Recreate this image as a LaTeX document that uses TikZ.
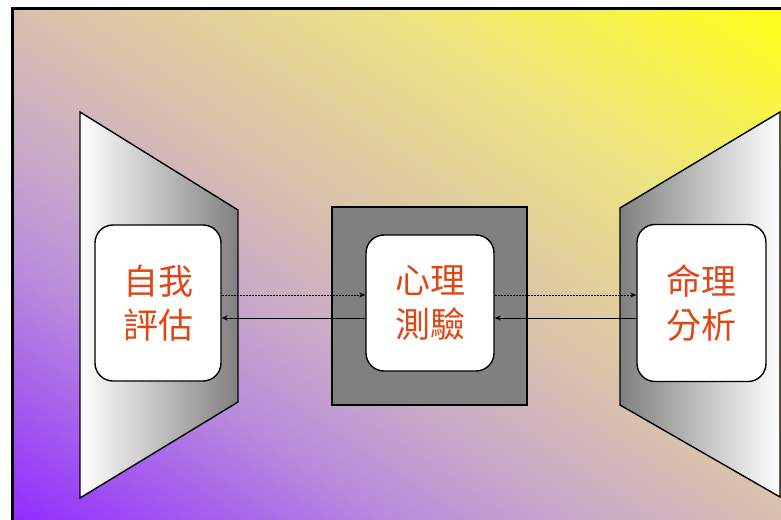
\documentclass[tikz,border=0pt]{standalone}
\usepackage{fontspec}
\newfontfamily\cjk{Noto Sans CJK TC}
\usetikzlibrary{arrows.meta}
\definecolor{txt}{RGB}{222,72,22}
\definecolor{midgray}{RGB}{128,128,128}
\pgfdeclarehorizontalshading{bgshade}{100bp}{rgb(0bp)=(0.569,0.176,1); rgb(25bp)=(0.569,0.176,1); rgb(37.5bp)=(0.725,0.549,0.863); rgb(43.75bp)=(0.784,0.667,0.784); rgb(50bp)=(0.843,0.753,0.686); rgb(62.5bp)=(0.929,0.894,0.510); rgb(75bp)=(1,1,0.098); rgb(100bp)=(1,1,0.098)}
\tikzset{
  box/.style={draw=black, line width=1.4pt, fill=white, rounded corners=18pt, inner sep=0pt,
    align=center, font=\cjk\fontsize{35}{44}\selectfont, text=txt},
  trap/.style={draw=black, line width=1.4pt},
  dasharrow/.style={-{Stealth[length=6pt,width=5pt]}, line width=0.9pt, dash pattern=on 2pt off 1pt},
  solidarrow/.style={-{Stealth[length=6pt,width=5pt]}, line width=0.9pt}
}
\begin{document}
\begin{tikzpicture}[x=1pt,y=-1pt]
\useasboundingbox (0,0) rectangle (781,519);
\clip (0,0) rectangle (781,519);
\fill[white] (0,0) rectangle (781,519);
% background
\begin{scope}
\clip (12,8) rectangle (781,519);
\begin{scope}[transform canvas={shift={(396.5,263.5)}, rotate=56.4}]
\shade[shading=bgshade] (-426,-1000) rectangle (426,1000);
\end{scope}
\end{scope}
\draw[line width=3pt] (12.5,8.5) -- (12.5,530);
\draw[line width=3pt] (11,8.5) -- (800,8.5);
% trapezoids
\shade[trap, left color=white, right color=midgray] (80,112) -- (238,210) -- (238,402) -- (80,498) -- cycle;
\shade[trap, left color=midgray, right color=white] (620,208) -- (780,112) -- (780,497) -- (620,405) -- cycle;
% middle square
\filldraw[fill=midgray, draw=black, line width=1.4pt] (332,207) rectangle (527,405);
% boxes
\node[box, minimum width=126pt, minimum height=156pt] (lb) at (158,303) {自我\\評估};
\node[box, minimum width=128pt, minimum height=136pt] (mb) at (430,303) {心理\\測驗};
\node[box, minimum width=129pt, minimum height=157pt] (rb) at (701.5,303) {命理\\分析};
% arrows
\draw[dasharrow] ([yshift=8pt]lb.east) -- ([yshift=8pt]mb.west);
\draw[solidarrow] ([yshift=-15pt]mb.west) -- ([yshift=-15pt]lb.east);
\draw[dasharrow] ([yshift=8pt]mb.east) -- ([yshift=8pt]rb.west);
\draw[solidarrow] ([yshift=-15pt]rb.west) -- ([yshift=-15pt]mb.east);
\end{tikzpicture}
\end{document}
